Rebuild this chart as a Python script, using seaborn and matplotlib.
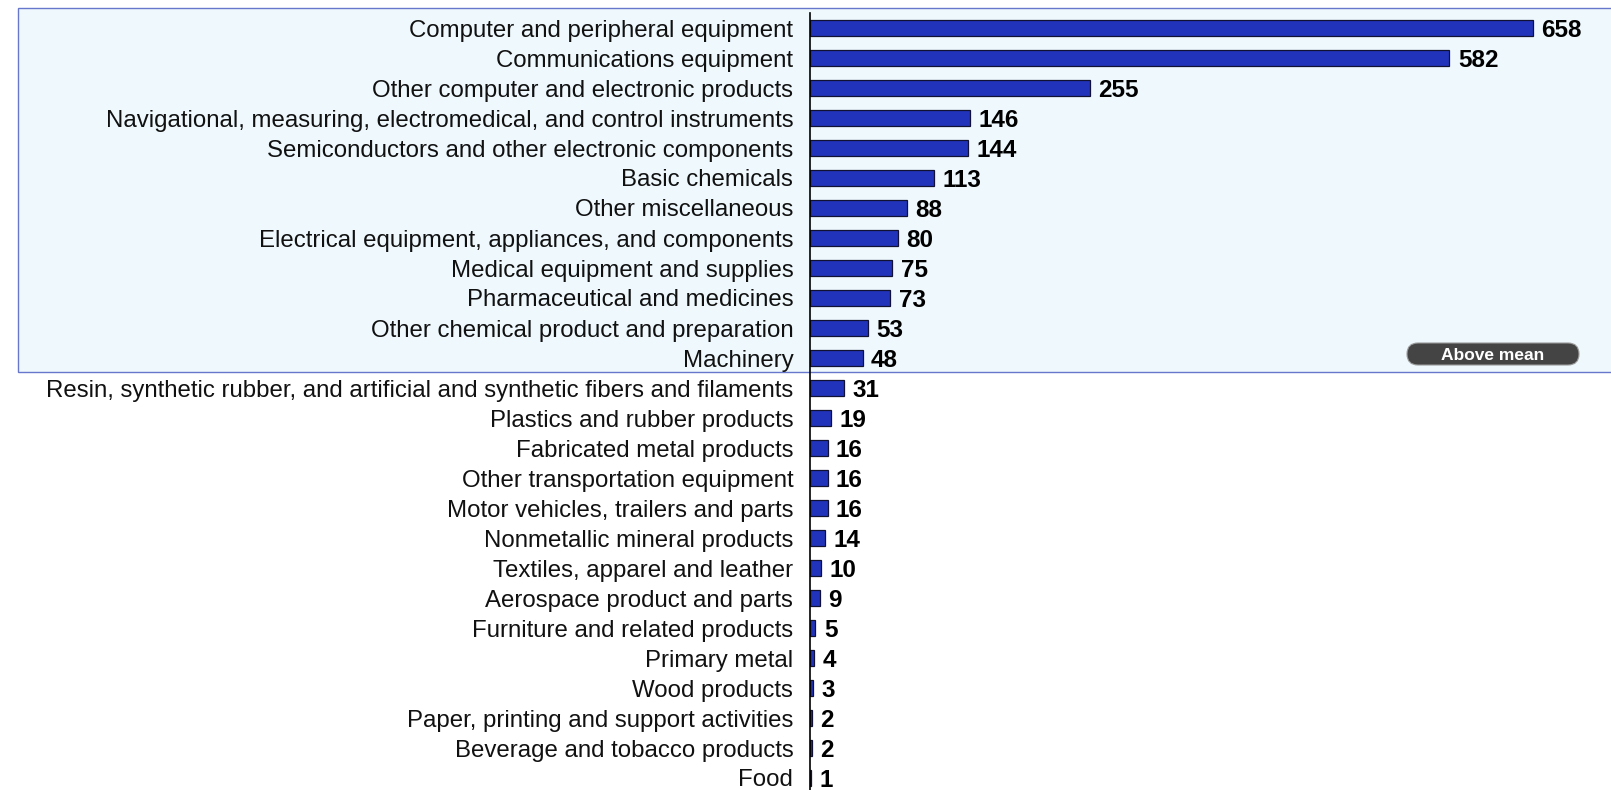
import matplotlib
matplotlib.use("Agg")
import matplotlib.pyplot as plt
import matplotlib.transforms as mtransforms
from matplotlib.patches import Rectangle, FancyBboxPatch
import seaborn as sns
import pandas as pd

categories = [
    "Computer and peripheral equipment",
    "Communications equipment",
    "Other computer and electronic products",
    "Navigational, measuring, electromedical, and control instruments",
    "Semiconductors and other electronic components",
    "Basic chemicals",
    "Other miscellaneous",
    "Electrical equipment, appliances, and components",
    "Medical equipment and supplies",
    "Pharmaceutical and medicines",
    "Other chemical product and preparation",
    "Machinery",
    "Resin, synthetic rubber, and artificial and synthetic fibers and filaments",
    "Plastics and rubber products",
    "Fabricated metal products",
    "Other transportation equipment",
    "Motor vehicles, trailers and parts",
    "Nonmetallic mineral products",
    "Textiles, apparel and leather",
    "Aerospace product and parts",
    "Furniture and related products",
    "Primary metal",
    "Wood products",
    "Paper, printing and support activities",
    "Beverage and tobacco products",
    "Food",
]
values = [658, 582, 255, 146, 144, 113, 88, 80, 75, 73, 53, 48,
          31, 19, 16, 16, 16, 14, 10, 9, 5, 4, 3, 2, 2, 1]
above_mean_count = 12
badge_text = "Above mean"

df = pd.DataFrame({"category": categories, "value": values})

sns.set_theme(style="white")
plt.rcParams["font.family"] = ["Liberation Sans", "DejaVu Sans"]

W, H = 1611, 790
fig = plt.figure(figsize=(W / 100, H / 100), dpi=100)
fig.patch.set_facecolor("white")
ax = fig.add_axes([810 / W, 0, 1 - 810 / W, 1 - 13 / H])
ax.set_facecolor("none")

sns.barplot(data=df, x="value", y="category", orient="h", color="#2233bb",
            edgecolor="#111133", linewidth=0.9, width=0.55, saturation=1, ax=ax)

for c in ax.containers:
    texts = ax.bar_label(c, fmt="%d", padding=6, fontsize=17.5, fontweight="bold",
                         color="black")
    for t in texts:
        t.set_va("center_baseline")

ax.set_xlim(0, 729)
ax.set_ylim(25.4, -0.5)
ax.set_xlabel("")
ax.set_ylabel("")
ax.set_xticks([])
ax.tick_params(axis="y", length=0, pad=12, labelsize=17.3, labelcolor="#111111")
for s in ["top", "right", "bottom"]:
    ax.spines[s].set_visible(False)
ax.spines["left"].set_color("black")
ax.spines["left"].set_linewidth(1.2)

# shaded "above mean" region
trans = mtransforms.blended_transform_factory(fig.transFigure, ax.transData)
top_row = -0.66
bottom_row = above_mean_count - 0.53
rect = Rectangle((17.5 / W, top_row), 1.2, bottom_row - top_row,
                 transform=trans, facecolor="#eef8fd", edgecolor="#6677cc",
                 linewidth=1.0, zorder=-10)
fig.patches.append(rect)

# "Above mean" badge (pixel coordinates)
badge = FancyBboxPatch((1407, H - 365), 172, 22,
                       boxstyle="round,pad=0,rounding_size=11",
                       transform=mtransforms.IdentityTransform(),
                       facecolor="#444444", edgecolor="#999999", linewidth=0.8,
                       zorder=5)
fig.patches.append(badge)
fig.text(1493 / W, (H - 354) / H, badge_text, ha="center", va="center_baseline",
         color="white", fontsize=12.5, fontweight="bold", zorder=6)

fig.savefig("out.png", dpi=100)
